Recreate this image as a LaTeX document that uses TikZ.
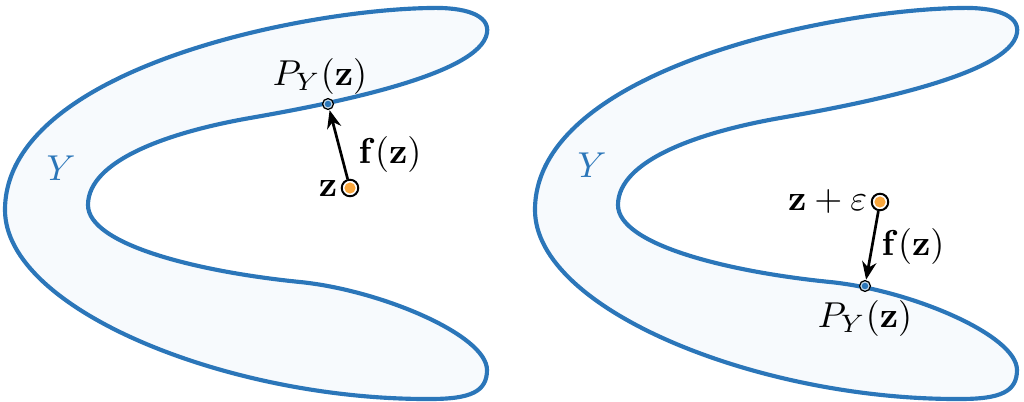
\documentclass[tikz,border=0pt]{standalone}
\usetikzlibrary{arrows.meta}
\definecolor{yblue}{HTML}{2B76B9}
\definecolor{yfill}{HTML}{F7FAFD}
\definecolor{zorange}{HTML}{F9A73E}
\tikzset{
  region/.style={draw=yblue, fill=yfill, line width=1.15pt},
  zpt/.style={circle, draw=black, line width=0.55pt, fill=white, minimum size=4.6pt, inner sep=0pt,
     path picture={\fill[zorange] (path picture bounding box.center) circle (1.55pt);}},
  ppt/.style={circle, draw=black, line width=0.35pt, fill=yblue!25, minimum size=3pt, inner sep=0pt,
     path picture={\fill[yblue] (path picture bounding box.center) circle (0.9pt);}},
  proj/.style={-{Stealth[length=5pt,width=4pt]}, line width=0.75pt, shorten >=0.1pt},
  ylab/.style={text=yblue},
}
\newcommand{\shapeY}{%
  (487,33) .. controls (490,15) and (465,7) .. (430,8)
  .. controls (300,10) and (5,70) .. (5,210)
  .. controls (5,310) and (230,400) .. (430,399)
  .. controls (470,399) and (487,392) .. (487,370)
  .. controls (487,335) and (380,290) .. (300,282)
  .. controls (200,272) and (88,245) .. (88,205)
  .. controls (88,160) and (170,132) .. (250,118)
  .. controls (330,104) and (480,75) .. cycle}
\begin{document}
\begin{tikzpicture}[x=0.2778pt, y=-0.2778pt]
\useasboundingbox (0,0) rectangle (1024,402);
% left panel
\draw[region] \shapeY;
\node[ylab] (Y1) at (61,168) {$Y$};
\node[ppt] (p1) at (328,104) {};
\node[zpt] (z1) at (350,188) {};
\node[anchor=east, inner sep=0pt] (zl1) at (338,188) {$\mathbf{z}$};
\node (pl1) at (320,76) {$P_Y(\mathbf{z})$};
\node (fl1) at (390,154) {$\mathbf{f}(\mathbf{z})$};
\draw[proj] (z1) -- (p1);
% right panel
\begin{scope}[xshift=530*0.2778pt]
\draw[region] \shapeY;
\end{scope}
\node[ylab] (Y2) at (592,165) {$Y$};
\node[ppt] (p2) at (865,286) {};
\node[zpt] (z2) at (880,202) {};
\node[anchor=east, inner sep=0pt] (zl2) at (868,201) {$\mathbf{z}+\varepsilon$};
\node (pl2) at (865,318) {$P_Y(\mathbf{z})$};
\node (fl2) at (913,246) {$\mathbf{f}(\mathbf{z})$};
\draw[proj] (z2) -- (p2);
\end{tikzpicture}
\end{document}
